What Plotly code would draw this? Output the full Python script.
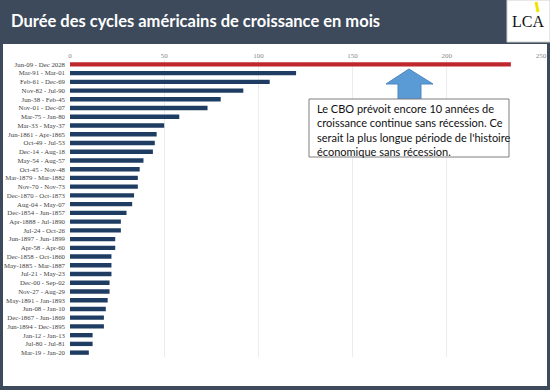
import plotly.graph_objects as go

cycles = [
    "Jun-09 - Dec 2028", "Mar-91 - Mar-01", "Feb-61 - Dec-69", "Nov-82 - Jul-90",
    "Jun-38 - Feb-45", "Nov-01 - Dec-07", "Mar-75 - Jan-80", "Mar-33 - May-37",
    "Jun-1861 - Apr-1865", "Oct-49 - Jul-53", "Dec-14 - Aug-18", "May-54 - Aug-57",
    "Oct-45 - Nov-48", "Mar-1879 - Mar-1882", "Nov-70 - Nov-73", "Dec-1870 - Oct-1873",
    "Aug-04 - May-07", "Dec-1854 - Jun-1857", "Apr-1888 - Jul-1890", "Jul-24 - Oct-26",
    "Jun-1897 - Jun-1899", "Apr-58 - Apr-60", "Dec-1858 - Oct-1860", "May-1885 - Mar-1887",
    "Jul-21 - May-23", "Dec-00 - Sep-02", "Nov-27 - Aug-29", "May-1891 - Jan-1893",
    "Jun-08 - Jan-10", "Dec-1867 - Jun-1869", "Jun-1894 - Dec-1895", "Jan-12 - Jan-13",
    "Jul-80 - Jul-81", "Mar-19 - Jan-20",
]
months = [
    234, 120, 106, 92, 80, 73, 58, 50, 46, 45, 44, 39, 37, 36, 36, 34, 33, 30, 27, 27,
    24, 24, 22, 22, 22, 21, 21, 20, 19, 18, 18, 12, 12, 10,
]
x_ticks = [0, 50, 100, 150, 200, 250]

title_text = "Durée des cycles américains de croissance en mois"
note_text = ("Le CBO prévoit encore 10 années de<br>croissance continue sans récession. Ce<br>"
             "serait la plus longue période de l'histoire<br>économique sans récession.")

DARK = "#3c4a5b"
NAVY = "#1f3d62"
RED = "#c0272d"

colors = [RED] + [NAVY] * (len(cycles) - 1)

fig = go.Figure()
fig.add_trace(go.Bar(
    x=months, y=cycles, orientation="h",
    marker=dict(color=colors, line=dict(width=0)),
    hoverinfo="x+y",
))

# plot area in pixels: left 70, right 541, top 60, bottom 357
L, R, T, B = 70, 541, 60, 357
W, H = R - L, B - T
def px(x):
    return (x - L) / W
def py(y):
    return (B - y) / H

shapes = []
# white panel
shapes.append(dict(type="rect", xref="paper", yref="paper",
                   x0=px(3), x1=px(547), y0=py(386), y1=py(44),
                   fillcolor="white", line=dict(width=0), layer="below"))
# logo box
shapes.append(dict(type="rect", xref="paper", yref="paper",
                   x0=px(507), x1=px(550), y0=py(42), y1=py(0),
                   fillcolor="white", line=dict(color="#cfcfcf", width=1), layer="above"))
shapes.append(dict(type="line", xref="paper", yref="paper",
                   x0=px(538), x1=px(536), y0=py(12), y1=py(2),
                   line=dict(color="#f2e200", width=3), layer="above"))
# arrow
arrow_pts = [(409, 69), (433, 84), (421, 84), (421, 99), (398, 99), (398, 84), (386, 84)]
path = "M " + " L ".join(f"{px(a):.4f},{py(b):.4f}" for a, b in arrow_pts) + " Z"
shapes.append(dict(type="path", xref="paper", yref="paper", path=path,
                   fillcolor="#5b9bd5", line=dict(color="#4a86c0", width=1), layer="above"))
# note box
shapes.append(dict(type="rect", xref="paper", yref="paper",
                   x0=px(309), x1=px(509), y0=py(157), y1=py(99),
                   fillcolor="white", line=dict(color="#7f7f7f", width=1), layer="above"))

annotations = [
    dict(text=title_text, xref="paper", yref="paper", x=px(9), y=py(21),
         xanchor="left", yanchor="middle", showarrow=False,
         font=dict(family="Lato", size=16.5, color="white", weight="bold")),
    dict(text="LCA", xref="paper", yref="paper", x=px(528), y=py(21),
         xanchor="center", yanchor="middle", showarrow=False,
         font=dict(family="Liberation Serif", size=16, color="#111")),
    dict(text=note_text, xref="paper", yref="paper", x=px(315), y=py(100),
         xanchor="left", yanchor="top", align="left", showarrow=False,
         font=dict(family="Lato", size=11, color="#111")),
]

fig.update_layout(
    width=550, height=390,
    margin=dict(l=L, r=550 - R, t=T, b=390 - B, autoexpand=False),
    paper_bgcolor=DARK, plot_bgcolor="white",
    bargap=0.5,
    showlegend=False,
    shapes=shapes,
    annotations=annotations,
    xaxis=dict(range=[0, 250], side="top", tickvals=x_ticks, automargin=False,
               tickfont=dict(family="Liberation Serif", size=7, color="#888"),
               showgrid=True, gridcolor="#ececec", gridwidth=1,
               zeroline=False, showline=False, ticks=""),
    yaxis=dict(categoryorder="array", categoryarray=cycles, autorange="reversed",
               tickmode="array", tickvals=cycles, ticktext=cycles, automargin=False,
               tickfont=dict(family="Liberation Serif", size=6.8, color="#444"),
               showgrid=False, showline=False, ticks="", ticklabelstandoff=4),
)

fig.write_html("out.html", config={"displayModeBar": False},
               post_script="document.body.style.margin='0';document.body.style.overflow='hidden';")
